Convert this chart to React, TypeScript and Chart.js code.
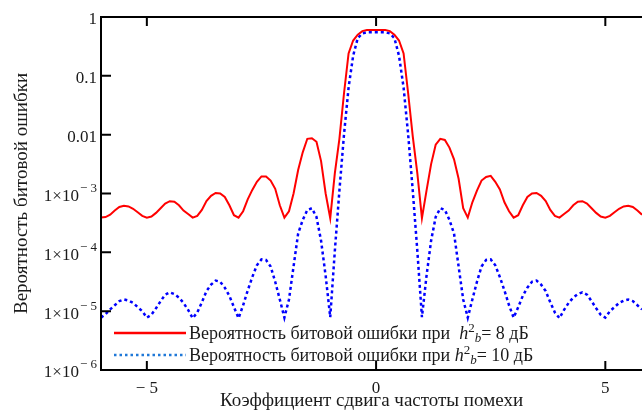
import { useEffect, useRef } from 'react';
import { Chart, registerables } from 'chart.js';

Chart.register(...registerables);

// Коэффициент сдвига частоты помехи
const shift = [
  -6.0, -5.9, -5.8, -5.7, -5.6, -5.5, -5.4, -5.3, -5.2, -5.1,
  -5.0, -4.9, -4.8, -4.7, -4.6, -4.5, -4.4, -4.3, -4.2, -4.1,
  -4.0, -3.9, -3.8, -3.7, -3.6, -3.5, -3.4, -3.3, -3.2, -3.1,
  -3.0, -2.9, -2.8, -2.7, -2.6, -2.5, -2.4, -2.3, -2.2, -2.1,
  -2.0, -1.9, -1.8, -1.7, -1.6, -1.5, -1.4, -1.3, -1.2, -1.1,
  -1.0, -0.9, -0.8, -0.7, -0.6, -0.5, -0.4, -0.3, -0.2, -0.1,
  0.0, 0.1, 0.2, 0.3, 0.4, 0.5, 0.6, 0.7, 0.8, 0.9,
  1.0, 1.1, 1.2, 1.3, 1.4, 1.5, 1.6, 1.7, 1.8, 1.9,
  2.0, 2.1, 2.2, 2.3, 2.4, 2.5, 2.6, 2.7, 2.8, 2.9,
  3.0, 3.1, 3.2, 3.3, 3.4, 3.5, 3.6, 3.7, 3.8, 3.9,
  4.0, 4.1, 4.2, 4.3, 4.4, 4.5, 4.6, 4.7, 4.8, 4.9,
  5.0, 5.1, 5.2, 5.3, 5.4, 5.5, 5.6, 5.7, 5.8,
];

// h²b = 8 дБ
const ber8dB = [
  3.89e-4, 3.98e-4, 4.37e-4, 5.13e-4, 5.89e-4, 6.17e-4, 6.03e-4, 5.5e-4, 4.79e-4, 4.17e-4,
  3.89e-4, 4.07e-4, 4.68e-4, 5.62e-4, 6.76e-4, 7.41e-4, 7.24e-4, 6.31e-4, 5.13e-4, 4.47e-4,
  3.89e-4, 4.17e-4, 5.25e-4, 7.41e-4, 9.12e-4, 1.02e-3, 1.0e-3, 8.71e-4, 6.31e-4, 4.27e-4,
  3.89e-4, 5.0e-4, 7.94e-4, 1.15e-3, 1.58e-3, 1.95e-3, 1.95e-3, 1.66e-3, 1.2e-3, 6.31e-4,
  3.89e-4, 5.0e-4, 1.0e-3, 2.51e-3, 5.01e-3, 8.51e-3, 8.71e-3, 7.59e-3, 3.55e-3, 1.0e-3,
  3.8e-4, 2.19e-3, 8.5e-3, 0.0501, 0.24, 0.398, 0.501, 0.575, 0.6, 0.603,
  0.603, 0.603, 0.6, 0.575, 0.501, 0.398, 0.24, 0.0501, 9.33e-3, 2.19e-3,
  3.8e-4, 1.12e-3, 3.16e-3, 6.76e-3, 8.51e-3, 8.13e-3, 6.03e-3, 3.8e-3, 1.78e-3, 5.62e-4,
  3.89e-4, 7.08e-4, 1.12e-3, 1.66e-3, 1.91e-3, 2.0e-3, 1.58e-3, 1.17e-3, 7.08e-4, 5.0e-4,
  3.89e-4, 4.27e-4, 6.31e-4, 8.71e-4, 1.0e-3, 1.02e-3, 9.12e-4, 7.41e-4, 5.25e-4, 4.17e-4,
  3.89e-4, 4.47e-4, 5.13e-4, 6.31e-4, 7.24e-4, 7.41e-4, 6.76e-4, 5.62e-4, 4.68e-4, 4.07e-4,
  3.89e-4, 4.17e-4, 4.79e-4, 5.5e-4, 6.03e-4, 6.17e-4, 5.89e-4, 5.13e-4, 4.37e-4,
];

// h²b = 10 дБ
const ber10dB = [
  7.76e-6, 8.9e-6, 1.07e-5, 1.26e-5, 1.48e-5, 1.58e-5, 1.51e-5, 1.38e-5, 1.17e-5, 1.0e-5,
  7.76e-6, 8.7e-6, 1.12e-5, 1.48e-5, 1.91e-5, 2.09e-5, 1.95e-5, 1.7e-5, 1.38e-5, 1.05e-5,
  7.6e-6, 9.5e-6, 1.41e-5, 2.19e-5, 2.82e-5, 3.31e-5, 3.16e-5, 2.51e-5, 1.82e-5, 1.17e-5,
  7.6e-6, 1.26e-5, 2.24e-5, 3.8e-5, 6.03e-5, 7.59e-5, 7.41e-5, 5.75e-5, 3.16e-5, 1.58e-5,
  7.76e-6, 1.58e-5, 5.75e-5, 2.09e-4, 3.55e-4, 5.25e-4, 5.62e-4, 3.98e-4, 1.58e-4, 3.98e-5,
  7.9e-6, 1.05e-4, 1.12e-3, 0.01, 0.0631, 0.22, 0.437, 0.525, 0.55, 0.55,
  0.55, 0.55, 0.55, 0.525, 0.437, 0.22, 0.0631, 0.01, 1.12e-3, 1.05e-4,
  7.9e-6, 3.98e-5, 1.58e-4, 3.98e-4, 5.62e-4, 5.25e-4, 3.55e-4, 2.09e-4, 5.75e-5, 1.58e-5,
  7.76e-6, 1.58e-5, 3.16e-5, 5.75e-5, 7.41e-5, 7.59e-5, 6.03e-5, 3.8e-5, 2.24e-5, 1.26e-5,
  7.76e-6, 1.17e-5, 1.82e-5, 2.51e-5, 3.16e-5, 3.31e-5, 2.82e-5, 2.19e-5, 1.41e-5, 9.5e-6,
  7.6e-6, 1.05e-5, 1.38e-5, 1.7e-5, 1.95e-5, 2.09e-5, 1.91e-5, 1.48e-5, 1.12e-5, 8.7e-6,
  7.76e-6, 1.0e-5, 1.17e-5, 1.38e-5, 1.51e-5, 1.58e-5, 1.48e-5, 1.26e-5, 1.07e-5,
];

const yTicks = [1, 0.1, 0.01, 1e-3, 1e-4, 1e-5, 1e-6];
const yTickMain = ['1', '0.1', '0.01', '1×10', '1×10', '1×10', '1×10'];
const yTickExp = ['', '', '', '− 3', '− 4', '− 5', '− 6'];
const xTicks = [-5, 0, 5];
const xTickLabels = ['− 5', '0', '5'];
const xTitle = 'Коэффициент сдвига частоты помехи';
const yTitle = 'Вероятность битовой ошибки';
const legendPrefix = ['Вероятность битовой ошибки при  ', 'Вероятность битовой ошибки при '];
const legendSuffix = ['= 8 дБ', '= 10 дБ'];

const FONT = '"Liberation Serif", "Times New Roman", serif';
const TEXT = '#1a1a1a';
const RED = '#ff0000';
const BLUE = '#0000ff';
const LEGEND_BLUE = '#1f78d8';

const decor = {
  id: 'decor',
  afterDraw(chart: any) {
    const { ctx, chartArea: a, scales } = chart;
    const xs = scales.x;
    const ys = scales.y;
    ctx.save();
    ctx.strokeStyle = '#000';
    ctx.lineWidth = 2;
    ctx.beginPath();
    ctx.moveTo(a.left, a.top - 1);
    ctx.lineTo(a.left, a.bottom + 1);
    ctx.moveTo(a.left - 1, a.bottom);
    ctx.lineTo(a.right, a.bottom);
    ctx.moveTo(a.left - 1, a.top);
    ctx.lineTo(a.right, a.top);
    yTicks.forEach((v) => {
      const y = ys.getPixelForValue(v);
      ctx.moveTo(a.left, y);
      ctx.lineTo(a.left + 10, y);
    });
    xTicks.forEach((v) => {
      const x = xs.getPixelForValue(v);
      ctx.moveTo(x, a.bottom);
      ctx.lineTo(x, a.bottom - 9);
      ctx.moveTo(x, a.top);
      ctx.lineTo(x, a.top + 9);
    });
    ctx.stroke();

    // y tick labels with exponents
    ctx.fillStyle = TEXT;
    ctx.textBaseline = 'middle';
    ctx.textAlign = 'right';
    const rightX = a.left - 4;
    yTicks.forEach((v, i) => {
      const y = ys.getPixelForValue(v) + 3;
      ctx.font = `13px ${FONT}`;
      const ew = yTickExp[i] ? ctx.measureText(yTickExp[i]).width + 1 : 0;
      if (yTickExp[i]) ctx.fillText(yTickExp[i], rightX, y - 8);
      ctx.font = `17px ${FONT}`;
      ctx.fillText(yTickMain[i], rightX - ew, y);
    });

    // legend
    const rows = [
      { y: 333, color: RED, dash: [] as number[] },
      { y: 355, color: LEGEND_BLUE, dash: [2.5, 3] },
    ];
    rows.forEach((r, i) => {
      ctx.save();
      ctx.strokeStyle = r.color;
      ctx.lineWidth = 2.5;
      ctx.setLineDash(r.dash);
      ctx.beginPath();
      ctx.moveTo(114, r.y);
      ctx.lineTo(186, r.y);
      ctx.stroke();
      ctx.restore();
      ctx.textAlign = 'left';
      ctx.textBaseline = 'alphabetic';
      const base = r.y + 6;
      let x = 189;
      ctx.font = `18px ${FONT}`;
      ctx.fillText(legendPrefix[i], x, base);
      x += ctx.measureText(legendPrefix[i]).width;
      ctx.font = `italic 18px ${FONT}`;
      ctx.fillText('h', x, base);
      x += ctx.measureText('h').width;
      ctx.font = `13px ${FONT}`;
      ctx.fillText('2', x, base - 7);
      x += ctx.measureText('2').width;
      ctx.font = `italic 13px ${FONT}`;
      ctx.fillText('b', x, base + 3);
      x += ctx.measureText('b').width;
      ctx.font = `18px ${FONT}`;
      ctx.fillText(legendSuffix[i], x, base);
    });
    ctx.restore();
  },
};

export default function App() {
  const ref = useRef<HTMLCanvasElement>(null);
  useEffect(() => {
    if (!ref.current) return;
    Chart.defaults.font.family = FONT;
    const chart = new Chart(ref.current, {
      type: 'line',
      data: {
        datasets: [
          {
            label: legendPrefix[0] + 'h2b' + legendSuffix[0],
            data: shift.map((x, i) => ({ x, y: ber8dB[i] })),
            borderColor: RED,
            borderWidth: 2,
            pointRadius: 0,
            tension: 0,
            fill: false,
          },
          {
            label: legendPrefix[1] + 'h2b' + legendSuffix[1],
            data: shift.map((x, i) => ({ x, y: ber10dB[i] })),
            borderColor: BLUE,
            borderWidth: 2.5,
            borderDash: [3, 3],
            pointRadius: 0,
            tension: 0,
            fill: false,
          },
        ],
      },
      options: {
        responsive: false,
        animation: false,
        layout: { padding: { left: 0, right: 0, top: 17, bottom: 0 } },
        plugins: { legend: { display: false }, tooltip: { enabled: false } },
        scales: {
          x: {
            type: 'linear',
            min: -6,
            max: 5.8,
            grid: { display: false, drawTicks: false },
            border: { display: false },
            afterBuildTicks: (s: any) => {
              s.ticks = xTicks.map((v) => ({ value: v }));
            },
            afterFit: (s: any) => {
              s.height = 44;
            },
            ticks: {
              padding: 8,
              color: TEXT,
              font: { size: 17, family: FONT },
              maxRotation: 0,
              callback: (v: any) => {
                const i = xTicks.indexOf(Number(v));
                return i >= 0 ? xTickLabels[i] : '';
              },
            },
            title: {
              display: true,
              text: xTitle,
              color: TEXT,
              font: { size: 19, family: FONT },
              padding: { top: 0, bottom: 2 },
            },
          },
          y: {
            type: 'logarithmic',
            min: 1e-6,
            max: 1,
            grid: { display: false, drawTicks: false },
            border: { display: false },
            afterBuildTicks: (s: any) => {
              s.ticks = yTicks.map((v) => ({ value: v }));
            },
            afterFit: (s: any) => {
              s.width = 101;
            },
            ticks: { display: false },
            title: {
              display: true,
              text: yTitle,
              color: TEXT,
              font: { size: 19, family: FONT },
              padding: { top: 11, bottom: 0 },
            },
          },
        },
      },
      plugins: [decor],
    });
    return () => chart.destroy();
  }, []);
  return (
    <div style={{ position: 'fixed', left: 0, top: 0, width: 642, height: 414, background: '#fff' }}>
      <canvas ref={ref} width={642} height={414} style={{ display: 'block' }} />
    </div>
  );
}
